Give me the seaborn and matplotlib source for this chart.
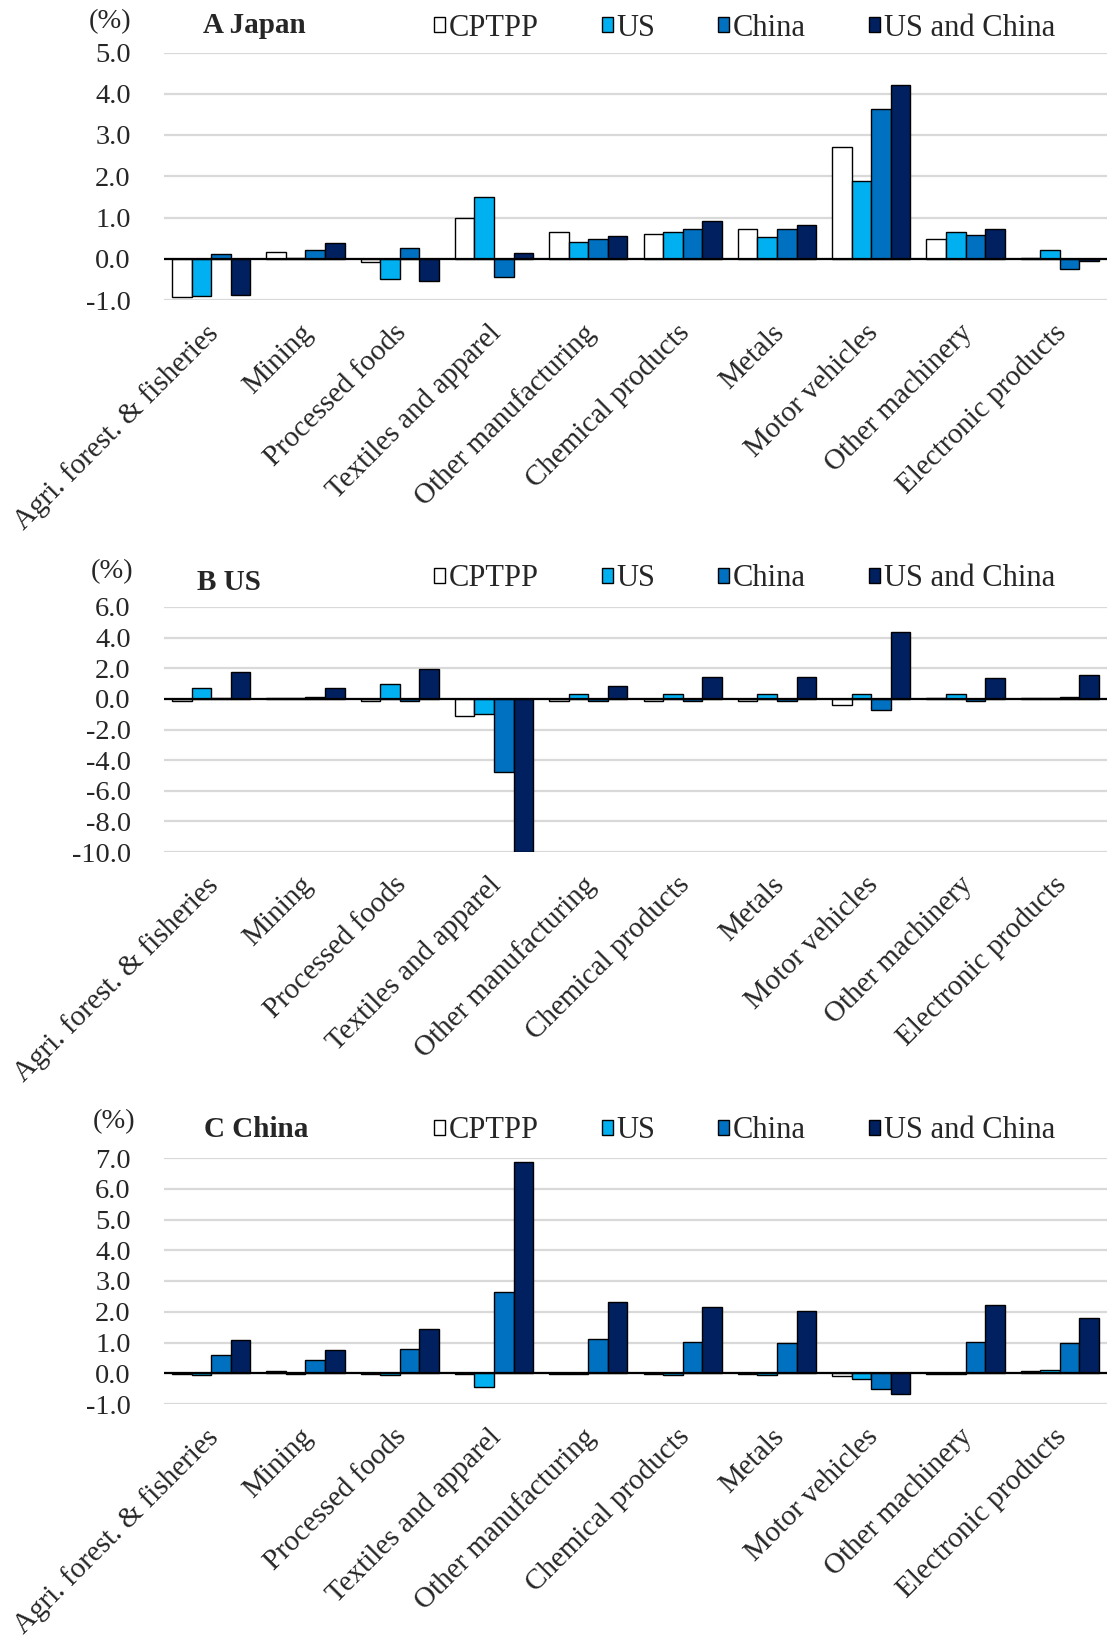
import numpy as np
import pandas as pd
import matplotlib
matplotlib.use("Agg")
import matplotlib.pyplot as plt
import matplotlib.transforms as mtransforms
import seaborn as sns
from matplotlib.patches import Patch

categories = ["Agri. forest. & fisheries", "Mining", "Processed foods",
              "Textiles and apparel", "Other manufacturing", "Chemical products",
              "Metals", "Motor vehicles", "Other machinery", "Electronic products"]
scenarios = ["CPTPP", "US", "China", "US and China"]
colors = ["#FFFFFF", "#00B0F0", "#0070C0", "#002060"]

# Panel A: Japan
japan_cptpp = [-0.92, 0.17, -0.07, 0.99, 0.64, 0.60, 0.72, 2.70, 0.48, 0.02]
japan_us = [-0.91, 0.02, -0.49, 1.49, 0.41, 0.64, 0.52, 1.88, 0.64, 0.21]
japan_china = [0.12, 0.22, 0.25, -0.45, 0.48, 0.72, 0.72, 3.62, 0.57, -0.25]
japan_usc = [-0.88, 0.37, -0.53, 0.13, 0.56, 0.92, 0.83, 4.21, 0.72, -0.05]

# Panel B: US
us_cptpp = [-0.15, 0.05, -0.15, -1.10, -0.15, -0.15, -0.15, -0.40, 0.05, 0.05]
us_us = [0.70, 0.05, 1.00, -1.00, 0.30, 0.30, 0.30, 0.30, 0.30, 0.05]
us_china = [0.05, 0.15, -0.15, -4.75, -0.15, -0.15, -0.15, -0.70, -0.15, 0.15]
us_usc = [1.75, 0.70, 1.98, -10.0, 0.82, 1.46, 1.46, 4.35, 1.35, 1.56]

# Panel C: China
china_cptpp = [-0.02, 0.06, -0.03, -0.03, -0.02, -0.03, -0.02, -0.08, -0.02, 0.06]
china_us = [-0.07, -0.03, -0.07, -0.46, -0.02, -0.07, -0.07, -0.20, -0.02, 0.12]
china_china = [0.60, 0.44, 0.80, 2.64, 1.12, 1.02, 0.97, -0.52, 1.02, 0.97]
china_usc = [1.07, 0.75, 1.43, 6.86, 2.33, 2.16, 2.01, -0.67, 2.22, 1.79]

panel_titles = ["A Japan", "B US", "C China"]
y_ranges = [(-1.0, 5.0, 1.0), (-10.0, 6.0, 2.0), (-1.0, 7.0, 1.0)]

panel_data = [
    [japan_cptpp, japan_us, japan_china, japan_usc],
    [us_cptpp, us_us, us_china, us_usc],
    [china_cptpp, china_us, china_china, china_usc],
]

W, H = 1107, 1637
FS = 20.5
FS_CAT = 21
FS_LEG = 22
FS_TITLE = 21
sns.set_theme(style="white")
plt.rcParams["font.family"] = ["Liberation Serif", "DejaVu Serif"]
plt.rcParams["axes.unicode_minus"] = False

fig = plt.figure(figsize=(W / 100, H / 100), dpi=100)

# pixel layout (top, bottom) of each plotting area
areas = [(52.5, 300.0), (607.0, 852.0), (1158.0, 1404.0)]
pct_pos = [(110, 28), (112.5, 578), (114, 1128)]
title_pos = [(203, 33), (197, 590), (204, 1137)]
legend_y = [28, 579, 1131]

for k in range(3):
    top, bot = areas[k]
    ax = fig.add_axes([164 / W, 1 - bot / H, (1107 - 164) / W, (bot - top) / H])
    rows = []
    for s, vals in zip(scenarios, panel_data[k]):
        for c, v in zip(categories, vals):
            rows.append({"category": c, "scenario": s, "value": v})
    df = pd.DataFrame(rows)
    sns.barplot(data=df, x="category", y="value", hue="scenario",
                order=categories, hue_order=scenarios, palette=colors,
                width=0.83, gap=0, edgecolor="black", linewidth=1.0,
                saturation=1, legend=False, ax=ax, zorder=3)
    lo, hi, step = y_ranges[k]
    ticks = np.arange(lo, hi + step / 2, step)
    ax.set_ylim(lo, hi)
    ax.set_xlim(-0.5, 9.5)
    ax.set_yticks(ticks)
    ax.set_yticklabels([f"{t:.1f}" for t in ticks], fontsize=FS)
    ax.yaxis.grid(True, color="#D9D9D9", linewidth=1.6, zorder=0)
    ax.set_axisbelow(True)
    ax.axhline(0, color="black", linewidth=1.6, zorder=5)
    for sp in ax.spines.values():
        sp.set_visible(False)
    ax.tick_params(axis="y", length=0, pad=24)
    ax.tick_params(axis="x", length=0, pad=21)
    ax.set_xticks(range(len(categories)))
    ax.set_xticklabels(categories, rotation=45, ha="right", va="center",
                       rotation_mode="anchor", fontsize=FS_CAT)
    shift = mtransforms.ScaledTranslation(3 / 100, 0, fig.dpi_scale_trans)
    for lab in ax.get_xticklabels():
        lab.set_transform(lab.get_transform() + shift)
    ax.set_xlabel("")
    ax.set_ylabel("")

    fig.text(pct_pos[k][0] / W, 1 - pct_pos[k][1] / H, "(%)", ha="center",
             va="baseline", fontsize=FS)
    fig.text(title_pos[k][0] / W, 1 - title_pos[k][1] / H, panel_titles[k],
             ha="left", va="baseline", fontsize=FS_TITLE, fontweight="bold")
    handles = [Patch(facecolor=c, edgecolor="black", linewidth=1.0) for c in colors]
    ax.legend(handles, scenarios, loc="center left",
              bbox_to_anchor=(434 / W, 1 - legend_y[k] / H),
              bbox_transform=fig.transFigure, ncol=4, frameon=False,
              handlelength=0.37, handleheight=0.37, handletextpad=0.12,
              columnspacing=2.05, borderpad=0, borderaxespad=0, fontsize=FS_LEG)

fig.savefig("out.png", dpi=100)
